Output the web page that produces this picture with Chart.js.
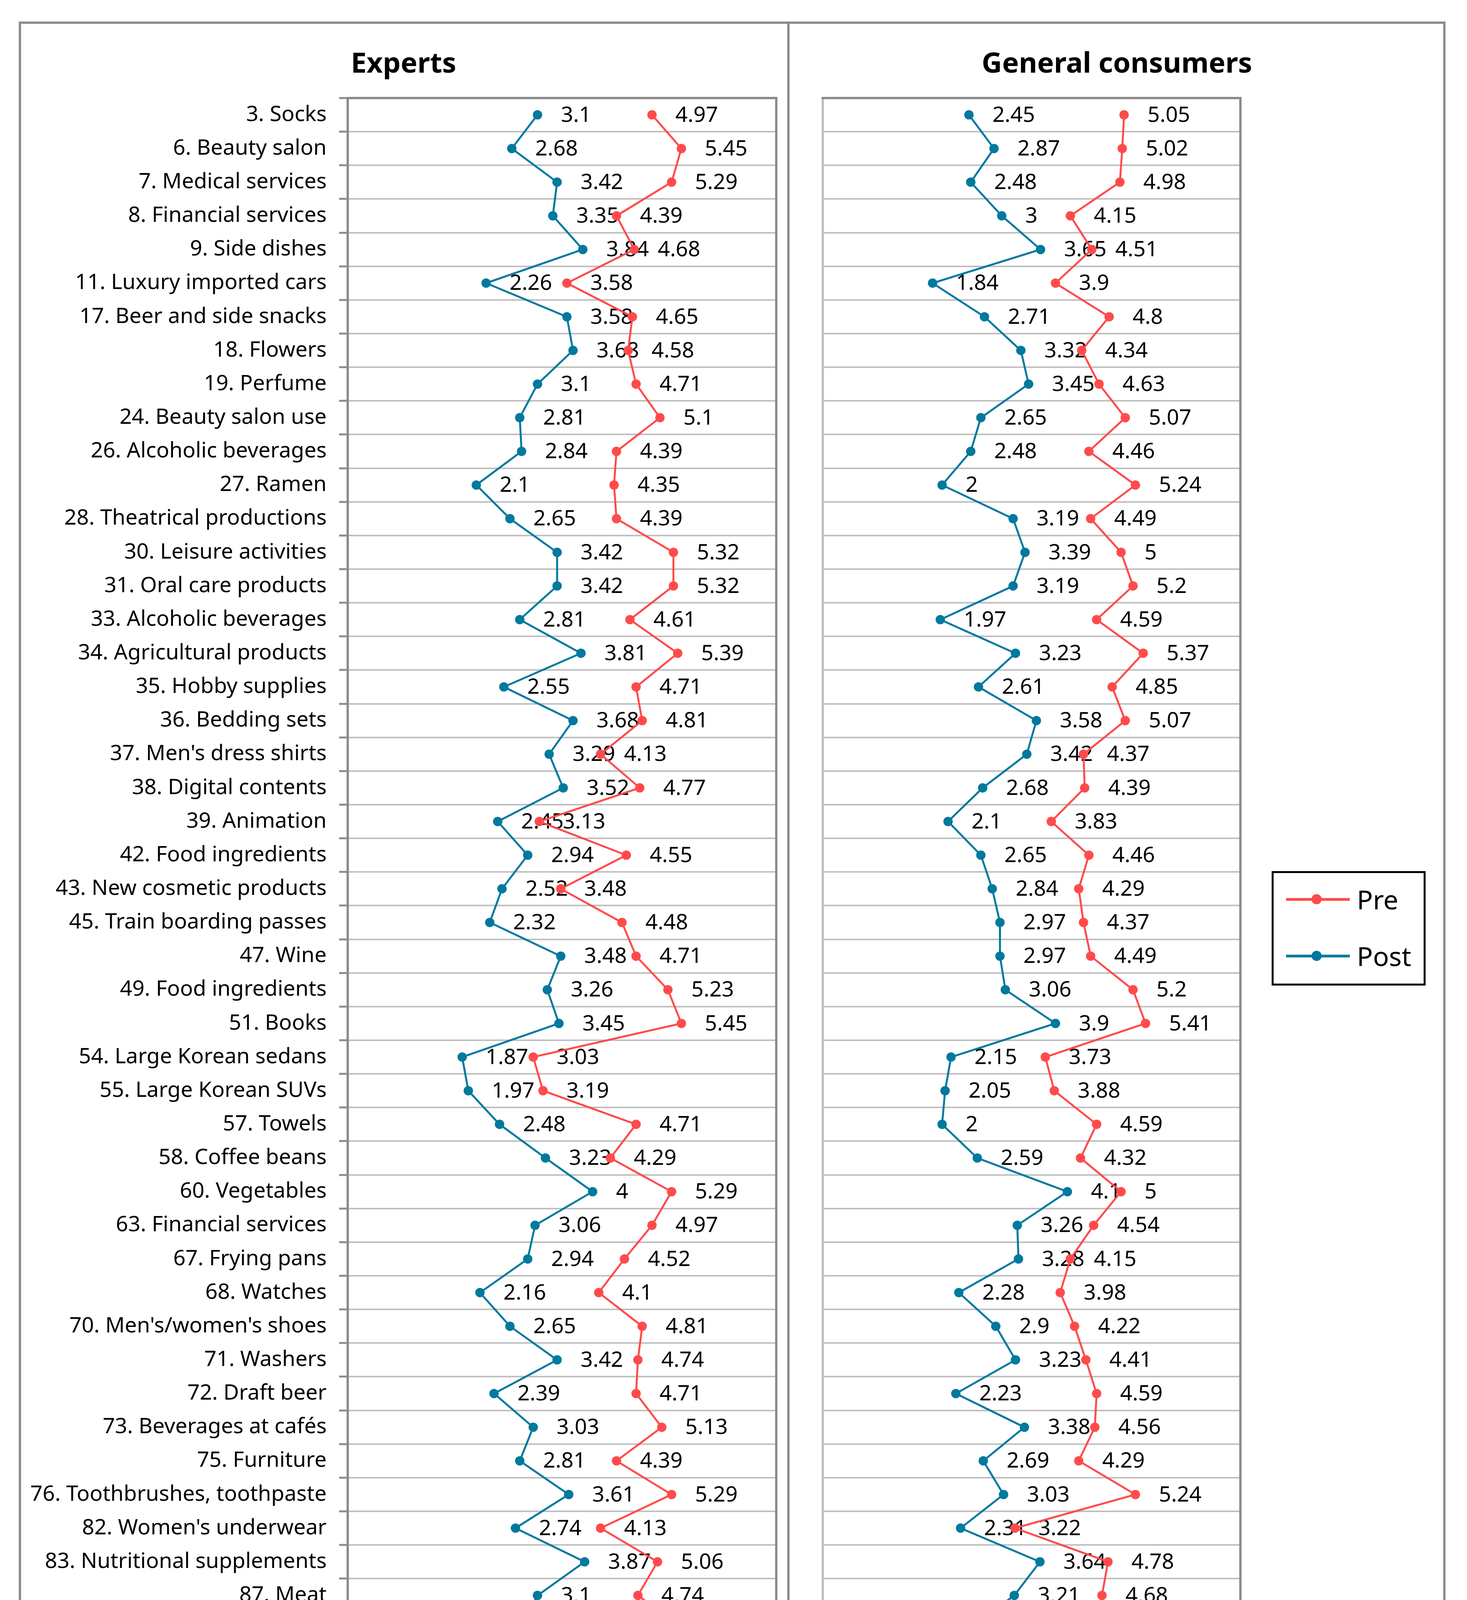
<!DOCTYPE html>
<html>
<head>
<meta charset="utf-8">
<script src="https://cdn.jsdelivr.net/npm/chart.js@4.4.1/dist/chart.umd.min.js"></script>
<style>
html,body{margin:0;padding:0;background:#fff;}
body{width:3755px;height:4584px;position:relative;overflow:hidden;font-family:"Noto Sans",sans-serif;}
.frame{position:absolute;left:48px;top:55px;width:3652px;height:4487px;border:6px solid #8c8c8c;box-sizing:border-box;}
.divider{position:absolute;left:2015px;top:55px;width:6px;height:4487px;background:#8c8c8c;}
.title{position:absolute;top:108px;height:100px;line-height:100px;font-weight:bold;font-size:72px;text-align:center;color:#000;white-space:nowrap;}
.wrap{position:absolute;top:0;height:4584px;}
.wrap canvas{display:block;}
.legend{position:absolute;left:3255px;top:2230px;width:394px;height:293px;border:5px solid #000;box-sizing:border-box;background:#fff;}
.legend .line{position:absolute;left:32px;width:163px;height:7px;}
.legend .dot{position:absolute;left:97px;width:26px;height:26px;border-radius:50%;}
.legend .txt{position:absolute;left:213px;height:90px;line-height:90px;font-size:68px;color:#000;}
</style>
</head>
<body>
<div class="frame"></div>
<div class="divider"></div>
<div class="title" style="left:48px;width:1970px;">Experts</div>
<div class="title" style="left:2018px;width:1682px;">General consumers</div>
<div class="wrap" style="left:0;width:2018px;"><canvas id="cExperts" width="2018" height="4584"></canvas></div>
<div class="wrap" style="left:2018px;width:1737px;"><canvas id="cConsumers" width="1737" height="4584"></canvas></div>
<div class="legend" id="legend"></div>
<script>
const categories = [
  "3. Socks","6. Beauty salon","7. Medical services","8. Financial services","9. Side dishes",
  "11. Luxury imported cars","17. Beer and side snacks","18. Flowers","19. Perfume","24. Beauty salon use",
  "26. Alcoholic beverages","27. Ramen","28. Theatrical productions","30. Leisure activities","31. Oral care products",
  "33. Alcoholic beverages","34. Agricultural products","35. Hobby supplies","36. Bedding sets","37. Men's dress shirts",
  "38. Digital contents","39. Animation","42. Food ingredients","43. New cosmetic products","45. Train boarding passes",
  "47. Wine","49. Food ingredients","51. Books","54. Large Korean sedans","55. Large Korean SUVs",
  "57. Towels","58. Coffee beans","60. Vegetables","63. Financial services","67. Frying pans",
  "68. Watches","70. Men's/women's shoes","71. Washers","72. Draft beer","73. Beverages at cafés",
  "75. Furniture","76. Toothbrushes, toothpaste","82. Women's underwear","83. Nutritional supplements","87. Meat",
  "91. Books","93. Glasses","94. Takeout food","95. Beverages at cafés"
];
const expertsPre = [
  4.97,5.45,5.29,4.39,4.68, 3.58,4.65,4.58,4.71,5.1,
  4.39,4.35,4.39,5.32,5.32, 4.61,5.39,4.71,4.81,4.13,
  4.77,3.13,4.55,3.48,4.48, 4.71,5.23,5.45,3.03,3.19,
  4.71,4.29,5.29,4.97,4.52, 4.1,4.81,4.74,4.71,5.13,
  4.39,5.29,4.13,5.06,4.74, 5.48,4.16,4.58,4.97
];
const expertsPost = [
  3.1,2.68,3.42,3.35,3.84, 2.26,3.58,3.68,3.1,2.81,
  2.84,2.1,2.65,3.42,3.42, 2.81,3.81,2.55,3.68,3.29,
  3.52,2.45,2.94,2.52,2.32, 3.48,3.26,3.45,1.87,1.97,
  2.48,3.23,4,3.06,2.94, 2.16,2.65,3.42,2.39,3.03,
  2.81,3.61,2.74,3.87,3.1, 2.81,3.16,3.39,3.16
];
const consumersPre = [
  5.05,5.02,4.98,4.15,4.51, 3.9,4.8,4.34,4.63,5.07,
  4.46,5.24,4.49,5,5.2, 4.59,5.37,4.85,5.07,4.37,
  4.39,3.83,4.46,4.29,4.37, 4.49,5.2,5.41,3.73,3.88,
  4.59,4.32,5,4.54,4.15, 3.98,4.22,4.41,4.59,4.56,
  4.29,5.24,3.22,4.78,4.68, 4.71,4.49,4.8,4.66
];
const consumersPost = [
  2.45,2.87,2.48,3,3.65, 1.84,2.71,3.32,3.45,2.65,
  2.48,2,3.19,3.39,3.19, 1.97,3.23,2.61,3.58,3.42,
  2.68,2.1,2.65,2.84,2.97, 2.97,3.06,3.9,2.15,2.05,
  2,2.59,4.1,3.26,3.28, 2.28,2.9,3.23,2.23,3.38,
  2.69,3.03,2.31,3.64,3.21, 2.44,2.87,3.41,2.59
];
const seriesNames = ["Pre","Post"];
const seriesColors = ["#FF4B4B","#00799E"];
const xMin = 0, xMax = 7;

const LABEL_FONT = '55px "Noto Sans"';
const DARK = '#8c8c8c', LIGHT = '#c0c0c0';

const valueLabels = {
  id: 'valueLabels',
  beforeDatasetsDraw(chart) {
    const ctx = chart.ctx;
    ctx.save();
    ctx.font = LABEL_FONT;
    ctx.fillStyle = '#000';
    ctx.textAlign = 'left';
    ctx.textBaseline = 'middle';
    chart.data.datasets.forEach((ds, i) => {
      const meta = chart.getDatasetMeta(i);
      meta.data.forEach((pt, j) => {
        ctx.fillText(String(ds.data[j]), pt.x + 60, pt.y + 2);
      });
    });
    ctx.restore();
  }
};

const plotFrame = {
  id: 'plotFrame',
  beforeDatasetsDraw(chart) {
    const a = chart.chartArea, ctx = chart.ctx;
    ctx.save();
    ctx.strokeStyle = DARK;
    ctx.lineWidth = 6;
    ctx.beginPath();
    ctx.moveTo(a.left - 3, a.top);
    ctx.lineTo(a.right + 3, a.top);
    ctx.moveTo(a.right, a.top);
    ctx.lineTo(a.right, a.bottom + 2);
    ctx.stroke();
    ctx.restore();
  }
};

function makeChart(id, pre, post, showLabels, axisWidth, padRight) {
  return new Chart(document.getElementById(id), {
    type: 'line',
    data: {
      labels: categories,
      datasets: [pre, post].map((d, i) => ({
        label: seriesNames[i],
        data: d,
        borderColor: seriesColors[i],
        backgroundColor: seriesColors[i],
        pointBackgroundColor: seriesColors[i],
        pointBorderWidth: 0,
        pointRadius: 12,
        borderWidth: 5,
        tension: 0,
        fill: false
      }))
    },
    options: {
      indexAxis: 'y',
      responsive: false,
      devicePixelRatio: 1,
      animation: false,
      layout: { padding: { top: 251, right: padRight, bottom: 112, left: 0 } },
      plugins: { legend: { display: false }, tooltip: { enabled: false }, title: { display: false } },
      scales: {
        x: { type: 'linear', min: xMin, max: xMax, display: false },
        y: {
          type: 'category',
          offset: true,
          grid: {
            offset: true,
            color: LIGHT,
            lineWidth: 4,
            drawTicks: showLabels,
            tickLength: 22,
            tickColor: DARK,
            tickWidth: 5
          },
          border: { display: true, color: showLabels ? DARK : LIGHT, width: 6 },
          ticks: {
            display: showLabels,
            autoSkip: false,
            padding: 32,
            color: '#000',
            font: { family: 'Noto Sans', size: 55 }
          },
          afterFit(scale) { scale.width = axisWidth; }
        }
      }
    },
    plugins: [valueLabels, plotFrame]
  });
}

makeChart('cExperts', expertsPre, expertsPost, true, 890, 31);
makeChart('cConsumers', consumersPre, consumersPost, false, 88, 580);

// legend
const lg = document.getElementById('legend');
const rowsY = [72, 217];
seriesNames.forEach((name, i) => {
  const y = rowsY[i] - 5;
  const line = document.createElement('div');
  line.className = 'line';
  line.style.top = (y - 3.5) + 'px';
  line.style.background = seriesColors[i];
  const dot = document.createElement('div');
  dot.className = 'dot';
  dot.style.top = (y - 13) + 'px';
  dot.style.background = seriesColors[i];
  const t = document.createElement('div');
  t.className = 'txt';
  t.style.top = (y - 45) + 'px';
  t.textContent = name;
  lg.appendChild(line); lg.appendChild(dot); lg.appendChild(t);
});
</script>
</body>
</html>
